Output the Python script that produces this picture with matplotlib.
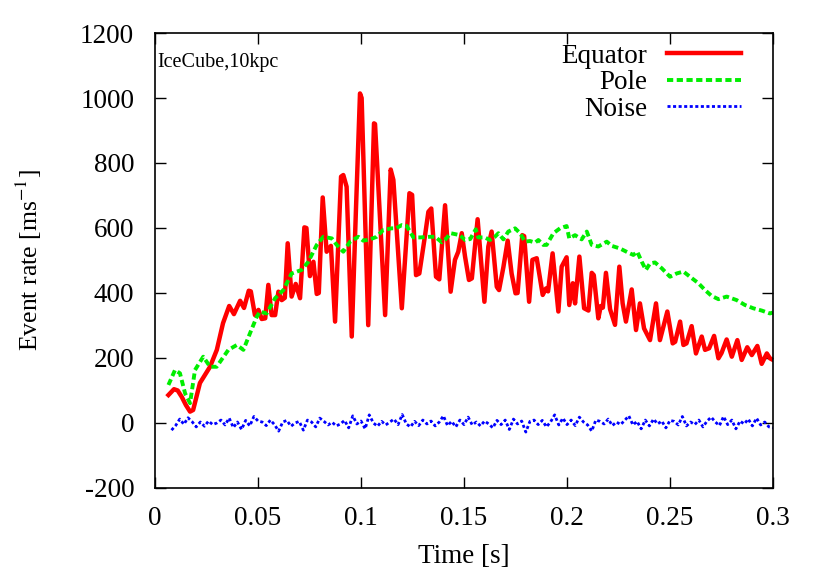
import numpy as np
import matplotlib.pyplot as plt

# Equator (time in ms, rate)
eq_t = [6.5, 9.2, 11, 13, 15, 17, 18.5, 21.8, 26.7, 30, 33, 36, 38.3, 41.3, 43.2, 45.5, 46.5,
        48.5, 50.2, 51.8, 53.5, 55, 56.6, 58.3, 59.9, 61.5, 63, 64.4, 66.3, 68.3, 70.4, 72.5,
        73.5, 75.2, 76.9, 78.5, 79.5, 81.4, 83.3, 85.4, 87.4, 90.3, 91.4, 93, 95.5, 97.5, 99.5,
        100.3, 103.5, 106.3, 106.8, 111.7, 114.4, 115.7, 119.8, 123.5, 124.8, 126.7, 128.3,
        131.1, 132.7, 134.1, 136.4, 138, 140.8, 143.5, 145.6, 147.2, 148.9, 150.5, 152.4, 153.8,
        156.6, 159.9, 161.8, 163.4, 165.9, 167, 169.1, 171.2, 173.1, 175, 176, 178.3, 179.2,
        181.6, 183.2, 185.3, 188.2, 189.8, 190.8, 193, 195.8, 197.4, 199.8, 201.1, 202.8, 203.9,
        206, 208.3, 210.4, 212, 213, 215.2, 216.4, 217.4, 218.9, 220.9, 223.3, 225.4, 227,
        228.6, 231.4, 233.5, 235.4, 237.4, 240.3, 243.2, 245.1, 248.7, 251.3, 252.5, 254.9,
        256.5, 258, 260.5, 262.6, 265.4, 267, 269, 271.4, 273.5, 275, 277.5, 280, 282.7, 284.8,
        287.5, 289.7, 292.4, 294.5, 297, 298.5, 300]
eq_v = [86, 104, 100, 80, 55, 35, 40, 123, 173, 225, 307, 360, 335, 376, 354, 407, 405,
        332, 348, 320, 322, 425, 332, 332, 404, 378, 385, 553, 389, 428, 384, 602,
        600, 452, 496, 397, 400, 694, 527, 545, 312, 758, 763, 727, 266, 650, 1014,
        1000, 301, 922, 920, 332, 780, 748, 353, 707, 702, 455, 460,
        578, 650, 660, 450, 442, 670, 404, 502, 527, 584, 512, 440, 445,
        627, 373, 543, 589, 419, 409, 479, 561, 460, 399, 400, 578, 575,
        373, 502, 507, 394, 414, 405, 522, 343, 481, 510, 363, 430, 368,
        512, 353, 346, 462, 455, 322, 360, 355, 462, 350, 302, 481, 368,
        312, 411, 286, 368, 291, 255, 368, 255, 343, 245, 250, 312,
        240, 245, 298, 214, 266, 225, 230, 268, 199, 215, 257, 204, 255, 194,
        233, 209, 237, 182, 214, 199, 194]

# Pole
pole_t = [6.5, 9.7, 12.1, 14.6, 17, 19.4, 23.4, 26.7, 29.9, 35.6, 39.7, 42.9, 46.1, 49.4, 51,
          54.2, 58.3, 62.3, 66.3, 71.2, 74.4, 78.5, 81.7, 85.8, 88.2, 91.4, 94.7, 98.7, 101.1,
          104.4, 107.6, 110.8, 114.9, 117, 119.8, 122.2, 125.4, 128.6, 133.5, 136, 139.2, 141,
          143.5, 148, 150.5, 153, 155.7, 156.9, 160, 162.6, 165, 166.7, 169.1, 171.5, 174.8,
          177.2, 179.6, 182, 184.5, 186.1, 188.5, 190.1, 193.4, 196.6, 199.8, 201.1, 203.9,
          207.1, 209.6, 212, 215.2, 219.3, 221.7, 225.7, 229.8, 232.2, 234.1, 236.3, 238.3,
          240.3, 242.7, 246, 250, 253.2, 256.5, 259.7, 263.8, 267, 270.2, 273.5, 277.5, 282.4,
          286.4, 290.4, 294.5, 298.5, 300]
pole_v = [117, 163, 153, 91, 61, 163, 204, 173, 173, 225, 240, 225, 276, 327, 343,
          337, 384, 409, 460, 471, 496, 548, 573, 568, 548, 527, 558, 573, 561,
          565, 573, 594, 599, 599, 609, 606, 571, 571, 573, 573, 556, 565,
          584, 578, 563, 566, 596, 571, 571, 563, 573, 584, 565, 589, 599,
          584, 558, 560, 555, 563, 548, 548, 584, 599, 606, 568, 578,
          565, 589, 548, 543, 558, 545, 537, 524, 517, 527, 496, 471,
          491, 494, 476, 450, 460, 466, 450, 430, 409, 391, 381, 389, 378,
          363, 353, 346, 337, 340]

# Noise, every 2 ms from 8 ms
noise_v = [-22, -8, 12, -4, 16, 4, -12, 3, -10, 6, -5, 0, 9, -6, 15, -14, 3, -20, 8, -9,
           20, 6, 3, -8, 9, -5, -25, 3, 8, -10, 0, 5, -22, 9, 3, -12, 15, 5, -6, 2,
           -9, -3, 8, -15, 22, -3, 6, -18, 25, 0, -10, 5, -6, 3, 12, -5, 26, -3, -12, 5,
           -8, 9, -3, 6, -9, 3, 22, -8, 5, -12, 9, -5, 18, -6, 3, -9, 6, -3, -15, 8,
           -5, 9, -20, 12, -3, 6, -28, 5, 9, -5, 8, -12, 3, 25, -6, 15, -5, 9, -8, 18,
           3, -6, -25, 9, 5, -3, 12, -8, 3, -5, 8, 22, -6, 5, -18, 9, -9, 12, -3, 6,
           -15, 8, 5, -6, 20, -9, 3, -5, 9, -12, 6, 18, 3, -8, 20, -5, 9, -18, 6, -3,
           12, -9, 15, -6, 3, -12, -15]
noise_t = np.arange(len(noise_v)) * 2 + 8

plt.rcParams['font.family'] = 'Liberation Serif'
plt.rcParams['mathtext.fontset'] = 'stix'
plt.rcParams['axes.unicode_minus'] = False

fig = plt.figure(figsize=(8.22, 5.76), dpi=100)
ax = fig.add_axes([0.1886, 0.1528, 0.7518, 0.7899])

ax.plot(np.array(eq_t) / 1000, eq_v, color='#ff0000', lw=3.2, label='Equator')
ax.plot(np.array(pole_t) / 1000, pole_v, color='#00ee00', lw=2.8, dashes=(1.6, 0.9),
        label='Pole')
ax.plot(noise_t / 1000, noise_v, color='#0000ff', lw=2.0, dashes=(1.1, 0.9), label='Noise')

ax.set_xlim(0, 0.3)
ax.set_ylim(-200, 1200)
ax.set_xticks([0, 0.05, 0.1, 0.15, 0.2, 0.25, 0.3])
ax.set_xticklabels(['0', '0.05', '0.1', '0.15', '0.2', '0.25', '0.3'])
ax.set_yticks(range(-200, 1201, 200))
ax.tick_params(axis='both', direction='in', length=8, width=1, top=True, right=True,
               labelsize=19.5)
ax.tick_params(axis='y', pad=15)
ax.tick_params(axis='x', pad=13)
for s in ax.spines.values():
    s.set_linewidth(1.2)

ax.set_xlabel('Time [s]', fontsize=19.5, labelpad=9)
ax.set_ylabel('Event rate [ms$^{-1}$]', fontsize=18.5, labelpad=26)
ax.text(0.004, 0.935, 'IceCube,10kpc', transform=ax.transAxes, fontsize=14.5,
        va='center', ha='left')

ax.legend(loc='upper right', markerfirst=False, frameon=False, fontsize=19.5,
          handlelength=2.7, labelspacing=0.05, handletextpad=0.75,
          borderaxespad=0.0, bbox_to_anchor=(0.965, 1.0))

fig.savefig('out.png', dpi=100)
